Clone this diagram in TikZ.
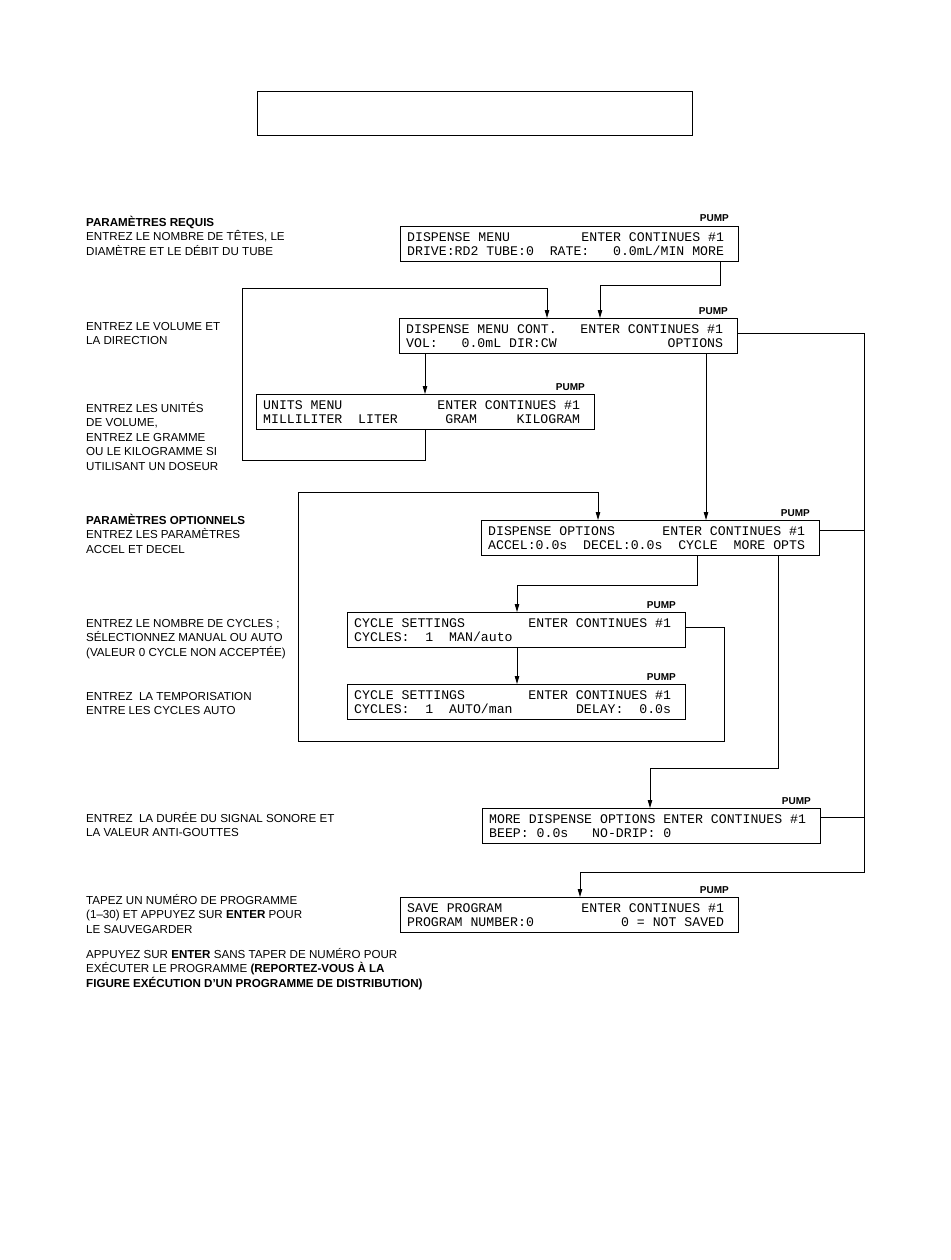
\documentclass[tikz,border=0pt]{standalone}
\usepackage{fontspec}
\setmainfont{Liberation Sans}
\newfontfamily\lcd{Liberation Mono}
\usetikzlibrary{arrows.meta}
\tikzset{
  dbox/.style={draw, line width=1pt, anchor=north west, minimum width=338pt, minimum height=35pt, inner sep=0pt},
  lcdt/.style={anchor=base west, inner sep=0pt, font=\lcd\fontsize{13.2}{14}\selectfont},
  pump/.style={anchor=base east, inner sep=0pt, font=\bfseries\fontsize{10}{12}\selectfont},
  lt/.style={anchor=base west, inner sep=0pt, font=\fontsize{11.6}{14}\selectfont},
  conn/.style={line width=0.9pt},
  arr/.style={conn, -{Triangle[length=8pt,width=4.5pt]}}
}
\newcommand\lcdbox[5]{%
  \node[dbox] (#1) at (#2,#3) {};
  \node[lcdt] (#1a) at (#2+7,#3+15) {#4};
  \node[lcdt] (#1b) at (#2+7,#3+29) {#5};
  \node[pump] (#1p) at (#2+329,#3-4) {PUMP};
}
\begin{document}
\begin{tikzpicture}[x=1pt,y=-1pt]
\useasboundingbox (0,0) rectangle (950,1260);
\node[draw, line width=1.2pt, anchor=north west, minimum width=435pt, minimum height=44pt, inner sep=0pt] (title) at (257,91) {};

\lcdbox{b1}{400}{226}{DISPENSE~MENU~~~~~~~~~ENTER~CONTINUES~\#1}{DRIVE:RD2~TUBE:0~~RATE:~~~0.0mL/MIN~MORE}
\lcdbox{b2}{399}{318}{DISPENSE~MENU~CONT.~~~ENTER~CONTINUES~\#1}{VOL:~~~0.0mL~DIR:CW~~~~~~~~~~~~~~OPTIONS}
\lcdbox{un}{256}{394}{UNITS~MENU~~~~~~~~~~~~ENTER~CONTINUES~\#1}{MILLILITER~~LITER~~~~~~GRAM~~~~~KILOGRAM}
\lcdbox{do}{481}{520}{DISPENSE~OPTIONS~~~~~~ENTER~CONTINUES~\#1}{ACCEL:0.0s~~DECEL:0.0s~~CYCLE~~MORE~OPTS}
\lcdbox{ca}{347}{612}{CYCLE~SETTINGS~~~~~~~~ENTER~CONTINUES~\#1}{CYCLES:~~1~~MAN/auto}
\lcdbox{cb}{347}{684}{CYCLE~SETTINGS~~~~~~~~ENTER~CONTINUES~\#1}{CYCLES:~~1~~AUTO/man~~~~~~~~DELAY:~~0.0s}
\lcdbox{md}{482}{808}{MORE~DISPENSE~OPTIONS~ENTER~CONTINUES~\#1}{BEEP:~0.0s~~~NO-DRIP:~0}
\lcdbox{sv}{400}{897}{SAVE~PROGRAM~~~~~~~~~~ENTER~CONTINUES~\#1}{PROGRAM~NUMBER:0~~~~~~~~~~~0~=~NOT~SAVED}

% left texts
\node[lt] (t1a) at (86,226) {\textbf{PARAMÈTRES REQUIS}};
\node[lt] (t1b) at (86,240.5) {ENTREZ LE NOMBRE DE TÊTES, LE};
\node[lt] (t1c) at (86,255) {DIAMÈTRE ET LE DÉBIT DU TUBE};
\node[lt] (t2a) at (86,330) {ENTREZ LE VOLUME ET};
\node[lt] (t2b) at (86,344.5) {LA DIRECTION};
\node[lt] (t3a) at (86,412) {ENTREZ LES UNITÉS};
\node[lt] (t3b) at (86,426.5) {DE VOLUME,};
\node[lt] (t3c) at (86,441) {ENTREZ LE GRAMME};
\node[lt] (t3d) at (86,455.5) {OU LE KILOGRAMME SI};
\node[lt] (t3e) at (86,470) {UTILISANT UN DOSEUR};
\node[lt] (t4a) at (86,524) {\textbf{PARAMÈTRES OPTIONNELS}};
\node[lt] (t4b) at (86,538.5) {ENTREZ LES PARAMÈTRES};
\node[lt] (t4c) at (86,553) {ACCEL ET DECEL};
\node[lt] (t5a) at (86,627) {ENTREZ LE NOMBRE DE CYCLES ;};
\node[lt] (t5b) at (86,641.5) {SÉLECTIONNEZ MANUAL OU AUTO};
\node[lt] (t5c) at (86,656) {(VALEUR 0 CYCLE NON ACCEPTÉE)};
\node[lt] (t6a) at (86,700) {ENTREZ\ \ LA TEMPORISATION};
\node[lt] (t6b) at (86,714.5) {ENTRE LES CYCLES AUTO};
\node[lt] (t7a) at (86,822) {ENTREZ\ \ LA DURÉE DU SIGNAL SONORE ET};
\node[lt] (t7b) at (86,836.5) {LA VALEUR ANTI-GOUTTES};
\node[lt] (t8a) at (86,904) {TAPEZ UN NUMÉRO DE PROGRAMME};
\node[lt] (t8b) at (86,918.5) {(1–30) ET APPUYEZ SUR \textbf{ENTER} POUR};
\node[lt] (t8c) at (86,933) {LE SAUVEGARDER};
\node[lt] (t9a) at (86,958) {APPUYEZ SUR \textbf{ENTER} SANS TAPER DE NUMÉRO POUR};
\node[lt] (t9b) at (86,972.5) {EXÉCUTER LE PROGRAMME \textbf{(REPORTEZ-VOUS À LA}};
\node[lt] (t9c) at (86,987) {\textbf{FIGURE EXÉCUTION D’UN PROGRAMME DE DISTRIBUTION)}};

% connectors
\draw[arr] ([xshift=320pt]b1.south west) |- (600,285) -- ([xshift=201pt]b2.north west);
\draw[arr] ([xshift=26pt]b2.south west) -- ([xshift=169pt]un.north west);
\draw[arr] ([xshift=169pt]un.south west) |- (242,460) -- (242,288) -| ([xshift=148pt]b2.north west);
\draw[arr] ([xshift=307pt]b2.south west) -- ([xshift=225pt]do.north west);
\draw[arr] ([yshift=-15pt]b2.north east) -| (864,872) -| ([xshift=180pt]sv.north west);
\draw[conn] ([yshift=-10pt]do.north east) -- (864,530);
\draw[conn] ([yshift=-9pt]md.north east) -- (864,817);
\draw[arr] ([xshift=216pt]do.south west) |- (517,585) -- ([xshift=170pt]ca.north west);
\draw[arr] ([xshift=297pt]do.south west) |- (650,768) -- ([xshift=168pt]md.north west);
\draw[arr] ([xshift=170pt]ca.south west) -- ([xshift=170pt]cb.north west);
\draw[arr] ([yshift=-15pt]ca.north east) -| (724,741) -- (298,741) -- (298,492) -| ([xshift=117pt]do.north west);
\end{tikzpicture}
\end{document}
